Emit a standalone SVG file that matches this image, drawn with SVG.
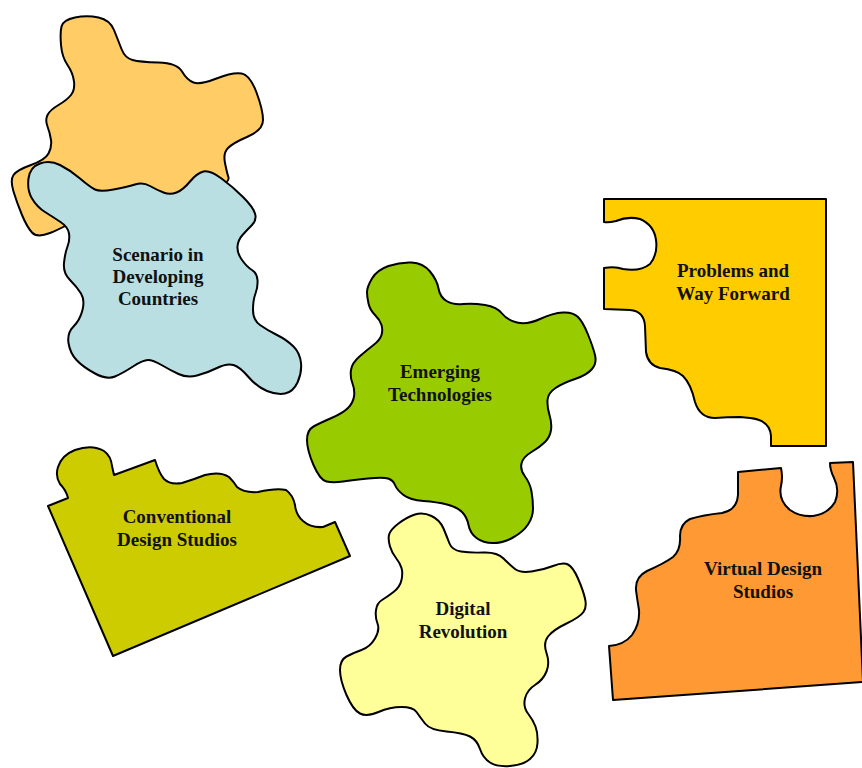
<svg xmlns="http://www.w3.org/2000/svg" width="862" height="768" viewBox="0 0 862 768">
<style>
.pc{stroke:#000;stroke-width:2;stroke-linejoin:round}
.lb{font-family:"Liberation Serif","Times New Roman",serif;font-weight:bold;font-size:19px;fill:#111;text-anchor:middle}
</style>
<rect width="862" height="768" fill="#fff"/>
<g id="orange-blob">
<path class="pc" fill="#FFCC66" d="M61,45 Q60,33 61.5,26.5 Q63,20 75,17.5 Q87,15 98.5,17.5 Q110,20 114,30 Q118,40 121.5,49 Q125,58 132.5,60 Q140,62 158.5,62.5 Q177,63 182,71.5 Q187,80 193.5,82.5 Q200,85 216.5,78.5 Q233,72 241.5,73.5 Q250,75 256.5,92.5 Q263,110 263,120 Q263,130 248,136.5 Q233,143 228,148 Q223,153 225,163 Q227,173 228.5,177.5 Q230,182 215,188.5 Q200,195 160,195 Q120,195 91.5,211.5 Q63,228 50,233 Q37,238 32,232.5 Q27,227 22,215 Q17,203 13.5,191.5 Q10,180 13.5,175 Q17,170 31,165 Q45,160 48.5,153.5 Q52,147 51,140 Q50,133 47.5,126.5 Q45,120 47.5,115 Q50,110 58.5,105 Q67,100 71,95 Q75,90 74,81.5 Q73,73 67.5,65 Q62,57 61,45 Z"/>
</g>
<g id="scenario">
<path class="pc" fill="#B9DFE3" d="M28.5,178.5 Q30,167 40,163.5 Q50,160 60,165 Q70,170 80,178.5 Q90,187 95,189.5 Q100,192 113.5,189.5 Q127,187 135,184.5 Q143,182 150,186 Q157,190 163.5,192.5 Q170,195 176.5,192.5 Q183,190 190,181.5 Q197,173 203.5,171.5 Q210,170 221.5,178.5 Q233,187 243,197 Q253,207 255,213.5 Q257,220 252,225 Q247,230 242.5,235 Q238,240 237.5,246.5 Q237,253 242,260 Q247,267 252,270 Q257,273 257.5,280 Q258,287 255.5,293.5 Q253,300 253,310 Q253,320 260,325 Q267,330 277,335 Q287,340 293.5,346.5 Q300,353 301,363 Q302,373 297.5,382.5 Q293,392 285,393.5 Q277,395 267,391 Q257,387 248.5,377 Q240,367 233.5,365 Q227,363 217,368 Q207,373 197,375.5 Q187,378 178.5,374 Q170,370 161.5,365 Q153,360 148,360 Q143,360 133,366.5 Q123,373 115,376.5 Q107,380 95,373.5 Q83,367 76.5,360 Q70,353 68.5,343 Q67,333 73.5,326.5 Q80,320 82.5,310 Q85,300 81,293.5 Q77,287 70,280 Q63,273 64,263 Q65,253 67.5,246.5 Q70,240 69,233.5 Q68,227 60.5,222 Q53,217 45,212 Q37,207 32,198.5 Q27,190 28.5,178.5 Z"/>
<text class="lb" x="158" y="261">Scenario in</text>
<text class="lb" x="158" y="283">Developing</text>
<text class="lb" x="158" y="305">Countries</text>
</g>
<g id="emerging">
<path class="pc" fill="#99CC00" d="M367,292 Q367,287 372,278.5 Q377,270 388.5,266 Q400,262 411.5,262.5 Q423,263 430,271.5 Q437,280 438.5,288.5 Q440,297 446.5,301 Q453,305 463,304 Q473,303 485,305 Q497,307 502,313.5 Q507,320 517,322.5 Q527,325 540,319 Q553,313 563,312.5 Q573,312 578,317 Q583,322 588,334.5 Q593,347 595,355 Q597,363 592,369 Q587,375 575,379 Q563,383 555.5,388 Q548,393 547.5,400 Q547,407 549.5,415 Q552,423 551,430 Q550,437 545,442 Q540,447 531.5,452 Q523,457 521.5,463.5 Q520,470 525,476.5 Q530,483 531.5,491.5 Q533,500 533,508.5 Q533,517 528,524.5 Q523,532 513,537.5 Q503,543 493,543 Q483,543 476.5,538 Q470,533 468.5,525 Q467,517 462,512 Q457,507 447,504.5 Q437,502 423.5,501 Q410,500 403.5,495 Q397,490 395,485 Q393,480 388,478.5 Q383,477 368,478.5 Q353,480 343,481.5 Q333,483 326.5,481.5 Q320,480 313.5,465 Q307,450 307,440 Q307,430 313.5,426.5 Q320,423 331.5,418 Q343,413 348,408 Q353,403 354,396.5 Q355,390 352.5,383.5 Q350,377 351,370 Q352,363 359.5,356.5 Q367,350 373.5,345 Q380,340 381.5,335 Q383,330 381.5,325 Q380,320 375,315 Q370,310 368.5,303.5 Q367,297 367,292 Z"/>
<text class="lb" x="440" y="378">Emerging</text>
<text class="lb" x="440" y="401">Technologies</text>
</g>
<g id="problems">
<path class="pc" fill="#FFCC00" d="M604,199 L826,199 L826,446 L771,446 L771,436 Q770,420 750,418 L740,417 Q727,417 715,418 Q700,418 695,402 Q691,384 683,376 Q677,370 660,368 Q648,365 646,352 L645,326 Q644,311 630,310 L604,309 L604,268 Q615,266 623,269 Q640,272 650,264 Q658,254 656,240 Q654,225 640,219 Q628,216 616,221 Q608,223 604,222 Z"/>
<text class="lb" x="733" y="277">Problems and</text>
<text class="lb" x="733" y="300">Way Forward</text>
</g>
<g id="virtual">
<path class="pc" fill="#FF9933" d="M738,472 L781,468 Q783,477 781,486 Q778,500 790,510 Q800,517 813,516 Q828,514 835,502 Q840,490 834,478 Q830,470 830,463 L853,462 L863,682 L613,700 L609,646 Q624,645 632,635 Q640,624 639,610 Q637,598 636,590 Q635,577 647,571 Q665,563 673,557 Q681,550 680,536 Q680,524 690,519 Q703,515 722,513 Q737,510 738,495 Z"/>
<text class="lb" x="763" y="575">Virtual Design</text>
<text class="lb" x="763" y="598">Studios</text>
</g>
<g id="conventional">
<path class="pc" fill="#CCCC00" d="M48,506 L68,498 Q66,490 60,484 Q55,476 58,467 Q62,455 75,450 Q92,444 104,451 Q111,456 112,466 L114,475 L155,460 Q159,473 164,479 Q170,485 182,483 Q195,479 205,475 Q220,471 229,477 Q234,482 237,487 Q244,493 258,492 Q276,488 286,490 Q293,495 295,505 Q296,515 303,521 Q311,528 323,527 L335,522 L350,556 L113,656 Z"/>
<text class="lb" x="177" y="523">Conventional</text>
<text class="lb" x="177" y="546">Design Studios</text>
</g>
<g id="digital">
<path class="pc" fill="#FFFF99" d="M389,535 Q390,530 398.5,523.5 Q407,517 415,514.5 Q423,512 431.5,516 Q440,520 443.5,528.5 Q447,537 449.5,543.5 Q452,550 461,551.5 Q470,553 483.5,552.5 Q497,552 503.5,558.5 Q510,565 515,569 Q520,573 531.5,571.5 Q543,570 553,566 Q563,562 568,564.5 Q573,567 578,578.5 Q583,590 585,598.5 Q587,607 583.5,612 Q580,617 566.5,623.5 Q553,630 548,636.5 Q543,643 546.5,653 Q550,663 546.5,671.5 Q543,680 535,685 Q527,690 525,698.5 Q523,707 528,713.5 Q533,720 535.5,726.5 Q538,733 537.5,743 Q537,753 530,759 Q523,765 510,766 Q497,767 490,762.5 Q483,758 480,749 Q477,740 470,736.5 Q463,733 446.5,731.5 Q430,730 425,723.5 Q420,717 416.5,712 Q413,707 401.5,707 Q390,707 378.5,712 Q367,717 360,713.5 Q353,710 346.5,695 Q340,680 340,670 Q340,660 346.5,656.5 Q353,653 361.5,650 Q370,647 375,638.5 Q380,630 377.5,623.5 Q375,617 376,610 Q377,603 382,600 Q387,597 393.5,592 Q400,587 401.5,580 Q403,573 401.5,568 Q400,563 396,558 Q392,553 390,546.5 Q388,540 389,535 Z"/>
<text class="lb" x="463" y="615">Digital</text>
<text class="lb" x="463" y="638">Revolution</text>
</g>
</svg>
